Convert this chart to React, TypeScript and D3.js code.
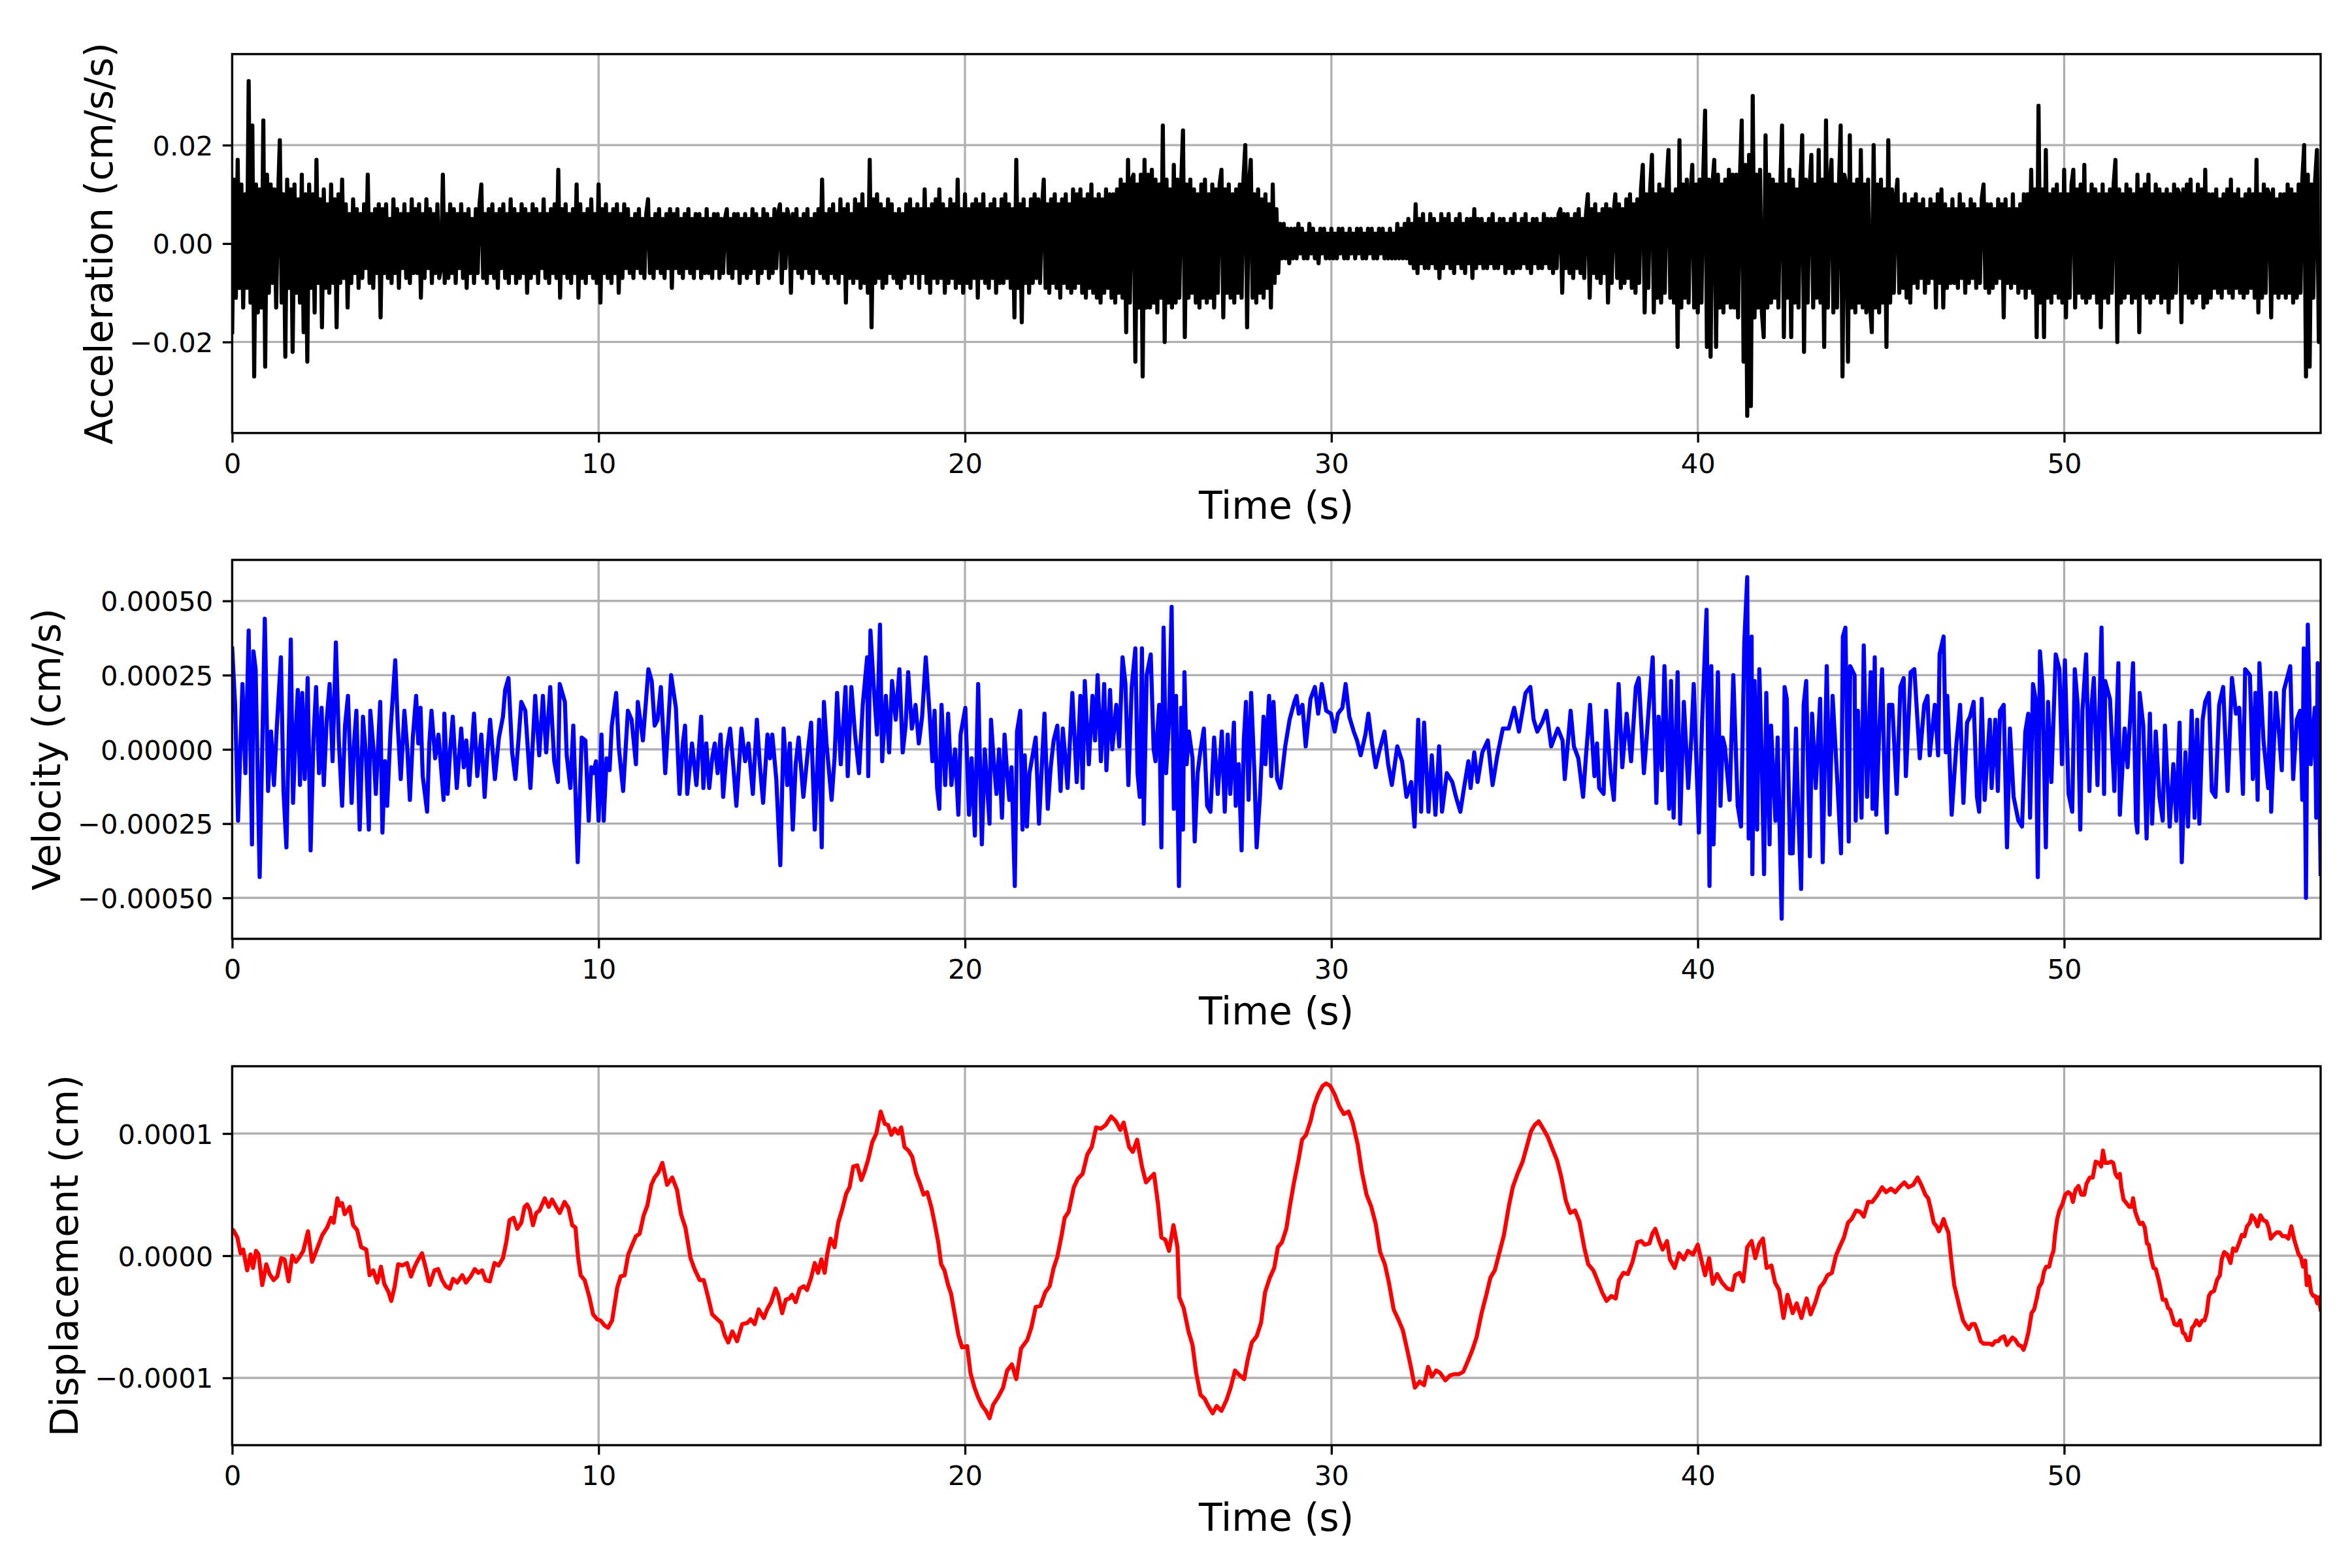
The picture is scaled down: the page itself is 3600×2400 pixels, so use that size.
import { useEffect, useRef } from "react"
import * as d3 from "d3"

type Pt = [number, number]

const tEnd = 57.0
const timeTicks = [0, 10, 20, 30, 40, 50]
const accelTicks = [-0.02, 0, 0.02]
const velocityTicks = [-0.0005, -0.00025, 0, 0.00025, 0.0005]
const displacementTicks = [-0.0001, 0, 0.0001]

// acceleration, one value every 0.05 s (one row per second), in 1e-3 cm/s/s
const accelStep = 0.05
const accelMilli = [
  -18, 13, -11, 17, -9, 12, -13, 10, -9, 33, -12, 24, -27, 12, -14, 11, -13, 25, -25, 14,
  -10, 12, -8, 11, -13, 9, 21, -12, 10, -23, 13, -9, 11, -22, 12, -10, 9, -12, 14, -18,
  10, -24, 12, -9, 10, -14, 17, -8, 9, -17, 11, -9, 8, -10, 12, -8, 9, -17, 10, -8,
  13, -7, 8, -13, 6, -8, 9, -6, 7, -9, 6, -7, 8, -5, 14, -8, 6, -9, 7, -6,
  8, -15, 7, -6, 8, -7, 5, -8, 9, -6, 7, -9, 6, -5, 8, -7, 6, -8, 9, -6,
  7, -6, 8, -11, 6, -7, 9, -5, 7, -8, 6, -6, 8, -7, -5, 14, -8, 6, -7, 8,
  -6, 7, -8, 6, -5, 8, -7, 6, -9, 7, -6, 5, -8, 7, -6, 8, 12, -7, 6, -8,
  7, -6, 8, -7, 6, -9, 7, -5, 8, -7, 6, -8, 9, -6, 7, -8, 6, -7, 8, -6,
  7, -10, 6, -7, 8, -6, 7, -8, 6, -5, 9, -7, 6, -8, 7, -6, 8, -7, 15, -11,
  7, -6, 8, -7, 6, -8, 7, -6, 12, -11, 8, -7, 6, -8, 7, -6, 9, -7, 6, -8,
  12, -12, 7, -6, 8, -7, 6, -8, 7, -6, 8, -10, 6, -7, 8, -5, 7, -6, 5, -7,
  6, -5, 7, -6, 5, -7, 6, 9, -6, 5, -7, 6, -5, 7, -6, 5, -7, 6, -5, 7,
  -9, 6, -5, 7, -6, 5, -7, 6, -5, 7, -6, 5, -7, 6, -5, 6, -7, 5, -6, 7,
  -6, 5, -7, 6, -5, 6, -7, 5, -6, 5, 7, -6, 5, -7, 6, -5, 6, -8, 5, -6,
  6, -7, 5, -6, 7, -5, 6, -8, 5, -6, 7, -5, 6, -7, 5, -6, 7, -5, 6, 8,
  -8, 6, -5, 7, 5, -10, 6, -5, 7, -6, 5, -7, 6, -5, 7, -6, 5, -8, 6, -5,
  7, -6, 13, -7, 6, -8, 7, -6, 8, -7, 6, -8, 9, -6, 7, -12, 8, -7, 6, -8,
  9, -7, 8, -9, 10, -8, 7, -10, 17, -17, 9, -8, 10, -7, 8, -9, 7, -8, 9, -6,
  8, -7, 6, -8, 7, -9, 6, -7, 8, -6, 9, -8, 7, -6, 8, -9, 7, -6, 11, -8,
  7, -10, 8, -7, 9, -8, 11, -7, 8, -10, 7, -8, 9, -7, 8, -9, 13, -8, 7, -10,
  10, -8, 7, -9, 8, -7, 9, -11, 8, -7, 10, -8, 7, -9, 8, -7, 9, -10, 7, -8,
  9, -8, 10, -7, 8, -9, 7, -15, 17, -9, 8, -16, 9, -8, 7, -10, 9, -8, 10, -7,
  9, -8, 7, 13, -9, 8, -10, 9, -8, 10, -9, 8, -11, 9, -8, 10, -9, 8, -10, 11,
  -9, 10, -8, 11, -10, 9, -11, 10, -9, 12, -10, 9, -11, 10, -12, 9, -10, 11, -9, 10,
  -11, 10, -12, 11, -10, 13, -11, 12, -18, 17, -12, 13, 14, -24, 12, -13, 14, -27, 17, -13,
  14, -13, 15, -12, 13, -14, 12, -11, 24, -20, 13, -12, 11, -13, 16, -12, 13, -11, 12, 23,
  -19, 12, -11, 13, -10, 11, -12, 10, -13, 12, -11, 13, -12, 10, -11, 12, -13, 11, -10, 12,
  15, -15, 11, -10, 12, -11, 10, -12, 11, -10, 12, -11, 13, 20, -17, 12, 17, -11, 10, -12,
  11, -10, 9, -11, 10, -9, 8, -13, 12, -8, 7, -6, 4, -3, 4, -3, 3, -4, 3, -3,
  3, -3, 4, -2, 3, -3, 2, -3, 4, -2, 3, -3, 2, -4, 3, -2, 3, -3, 2, -3,
  3, -3, 2, -3, 3, -2, 3, -3, 2, -3, 3, -2, 2, -3, 3, -2, 3, -3, 2, -3,
  3, -2, 3, -3, 2, -3, 3, -2, 3, -3, 2, -3, 3, -3, 2, -3, 4, -3, 3, -3,
  4, -3, 5, -4, 4, -5, 8, -6, 5, -4, 6, -5, 4, -5, 6, -4, 5, -5, 4, -7,
  6, -5, 5, -4, 6, -5, 4, -6, 5, -4, 6, -5, 4, -6, 5, -4, 5, -7, 7, -5,
  5, -4, 5, -5, 4, -5, 5, -4, 6, -5, 4, -5, 5, -4, 5, -6, 4, -5, 5, -6,
  6, -5, 4, -5, 5, -4, 6, -5, 4, -6, 5, -4, 5, -5, 4, -5, 6, -4, 5, -5,
  5, -6, 5, -5, 6, 7, -10, 6, -5, 6, -6, 5, -7, 6, -5, 7, -6, 5, -7, 6,
  10, -11, 7, -6, 8, -7, 6, -8, 7, -6, 8, -12, 7, -8, 6, 10, -7, 8, -9, 7,
  -8, 9, -7, 10, -9, 8, -10, 9, -8, 11, 16, -14, 10, -9, 11, 18, -14, 10, -11, 12,
  -12, 11, -10, 12, 19, -11, 10, -12, 11, -21, 21, -13, 12, -11, 13, -12, 10, 16, -13, 12,
  -14, 13, -12, 14, 27, -21, 13, -23, 12, 17, -21, 14, -13, 12, -14, 13, -12, 15, -13, 14,
  -13, 14, -15, 13, 25, -24, 16, -35, 18, -33, 30, -15, 14, -13, 15, -14, -19, 22, -13, 14,
  -12, 13, -11, 12, -13, 11, 24, -19, 12, -11, 15, -19, 13, -12, 11, -13, 12, 22, -22, 13,
  -12, 11, 18, -13, 12, -11, 19, -12, 13, -21, 25, -13, 12, 17, -14, 12, -13, 11, 24, -27,
  14, 12, -24, 22, -13, 12, -14, 13, -12, 19, -13, 12, -14, 13, -12, -18, 20, -13, 12, -14,
  13, -12, 11, -21, 21, -12, 11, -10, 9, 13, -10, 8, -9, 10, -11, 8, -12, 9, -8, 10,
  -9, 8, -7, 9, -10, 7, -8, 9, -7, 8, -13, 10, -8, 11, -13, 8, -9, 7, -8, 9,
  -8, 7, -9, 10, -7, 8, -10, 7, -8, 9, -7, 8, -9, 7, -8, 9, 12, -9, 8, -10,
  8, -9, 7, -8, 9, -7, 8, -15, 9, -8, 7, -9, 10, -8, 7, -10, 8, -9, 10, -11,
  10, -9, 15, -10, 11, -19, 28, -12, 11, -19, 19, -11, 10, -12, 11, -10, 12, -11, 10, -12,
  15, -15, 10, -11, 12, 15, -13, 11, -10, 12, -11, 16, -12, 10, -11, 12, -10, 11, -12, 10,
  -17, 12, -11, 10, -12, 11, -10, 12, 17, -20, 11, -12, 10, -11, 12, -10, 11, -12, 10, -11,
  14, -18, 11, -10, 12, -11, 14, -12, 10, -11, 12, -10, 11, -12, 10, -11, 11, -14, 10, -11,
  12, -10, 11, 10, -16, 11, -10, 12, -11, 13, -12, 10, -11, 12, -10, 11, -13, 15, -12, 10,
  -11, 10, -9, 11, -10, 9, -11, 10, -9, 11, -10, 13, -11, 10, -9, 11, -10, 9, -11, 10,
  -10, 11, -9, 10, -11, 17, -14, 10, -11, 12, -10, 11, 10, -15, 11, -10, 9, -11, 10, -10,
  10, -11, 12, -10, 11, -12, 10, -11, 12, -10, 13, 20, -27, 14, -25, 12, -11, 13, 19, -20,
  -18,
]

// velocity: [time s, value in 1e-5 cm/s]
const velocityPts: Pt[] = [
  [0.00, 34], [0.08, 15], [0.16, -24], [0.28, 22], [0.36, -8], [0.45, 40], [0.54, -32], [0.58, 33],
  [0.64, 27], [0.75, -43], [0.89, 44], [0.98, -14], [1.06, 6], [1.14, -12], [1.22, 8], [1.33, 31],
  [1.40, -14], [1.48, -33], [1.60, 37], [1.66, -18], [1.73, 5], [1.79, 20], [1.85, -12], [1.91, 19],
  [1.98, -10], [2.06, 24], [2.14, -34], [2.22, 4], [2.29, 21], [2.37, -8], [2.44, 14], [2.50, -12],
  [2.58, 10], [2.66, 22], [2.74, -4], [2.83, 36], [2.91, 3], [3.00, -19], [3.08, 8], [3.16, 18],
  [3.26, -18], [3.33, 3], [3.39, 13], [3.48, -27], [3.57, 11], [3.65, -2], [3.73, -27], [3.77, 13],
  [3.85, 1], [3.92, -15], [4.04, 16], [4.10, -28], [4.17, -4], [4.23, -19], [4.32, 6], [4.45, 30],
  [4.52, 8], [4.60, -10], [4.70, 13], [4.78, 0], [4.85, -17], [4.93, 4], [5.02, 18], [5.08, 2],
  [5.14, 14], [5.20, -9], [5.32, -21], [5.38, 2], [5.44, 13], [5.54, -3], [5.63, 5], [5.70, -6],
  [5.77, -17], [5.79, 12], [5.88, -15], [5.95, 0], [6.02, 11], [6.13, -13], [6.25, 7], [6.32, -6],
  [6.39, 3], [6.47, -12], [6.60, 12], [6.69, -9], [6.80, 5], [6.89, -16], [6.96, -2], [7.04, 10],
  [7.17, -10], [7.28, 4], [7.39, 11], [7.45, 20], [7.54, 24], [7.64, -1], [7.73, -10], [7.82, 4],
  [7.89, 16], [8.00, 13], [8.14, -13], [8.27, 18], [8.38, -2], [8.48, 18], [8.57, -1], [8.68, 21],
  [8.79, -4], [8.89, -11], [8.94, 22], [9.08, 16], [9.13, -2], [9.23, -13], [9.31, 8], [9.43, -38],
  [9.54, 4], [9.64, 3], [9.73, -24], [9.80, -6], [9.86, -8], [9.93, -4], [10.00, -24], [10.08, 5],
  [10.14, -24], [10.22, -3], [10.30, -7], [10.36, 8], [10.48, 19], [10.55, 1], [10.67, -14], [10.80, 13],
  [10.90, 10], [11.02, -5], [11.07, 16], [11.21, 3], [11.36, 27], [11.45, 23], [11.53, 8], [11.61, 10],
  [11.70, 21], [11.82, -8], [11.98, 25], [12.11, 14], [12.21, -15], [12.30, 2], [12.36, 8], [12.42, -15],
  [12.55, 2], [12.67, -12], [12.80, 11], [12.86, -13], [12.94, 2], [13.02, -13], [13.10, -3], [13.17, 2],
  [13.25, -8], [13.33, 5], [13.40, -16], [13.50, 0], [13.59, 7], [13.68, -6], [13.76, -19], [13.90, 7],
  [14.00, -4], [14.09, 2], [14.21, -15], [14.32, 10], [14.40, -5], [14.49, -18], [14.61, 5], [14.68, -3],
  [14.74, 5], [14.85, -10], [14.96, -39], [15.05, 7], [15.15, -12], [15.22, 2], [15.30, -27], [15.38, -5],
  [15.46, 4], [15.59, -16], [15.70, -2], [15.80, 9], [15.90, -27], [16.02, 10], [16.09, -33], [16.15, 16],
  [16.22, 2], [16.36, -17], [16.44, -3], [16.51, 19], [16.61, -5], [16.74, 21], [16.80, -9], [16.90, 21],
  [17.00, 5], [17.11, -8], [17.21, 15], [17.33, 31], [17.36, -9], [17.42, 40], [17.51, 21], [17.60, 5],
  [17.68, 42], [17.74, -4], [17.84, 18], [17.93, -1], [18.01, 23], [18.11, 10], [18.21, 27], [18.30, -1],
  [18.38, 8], [18.45, 26], [18.55, 7], [18.65, 15], [18.74, 2], [18.83, 11], [18.93, 31], [19.04, 11],
  [19.11, -4], [19.17, 13], [19.24, -13], [19.30, -20], [19.36, 15], [19.46, -12], [19.54, 12], [19.63, -12],
  [19.73, 0], [19.82, -22], [19.88, 5], [20.01, 14], [20.11, -22], [20.18, -3], [20.27, -29], [20.36, 22],
  [20.46, -32], [20.54, 0], [20.67, -25], [20.71, 10], [20.79, -5], [20.86, -15], [20.93, 0], [21.01, -23],
  [21.08, 5], [21.15, -8], [21.21, -17], [21.27, -6], [21.36, -46], [21.42, 6], [21.51, 13], [21.57, -27],
  [21.63, -2], [21.69, -26], [21.76, -8], [21.86, -1], [21.93, 4], [22.02, -25], [22.10, -5], [22.17, 12],
  [22.26, -20], [22.34, -6], [22.42, 3], [22.52, 8], [22.61, -14], [22.67, 7], [22.74, -3], [22.80, -13],
  [22.93, 19], [23.05, -11], [23.15, 18], [23.21, -13], [23.27, 23], [23.38, -5], [23.48, 18], [23.55, 3],
  [23.62, 25], [23.71, -4], [23.80, 22], [23.86, -7], [23.96, 20], [24.02, 0], [24.13, 15], [24.21, 1],
  [24.30, 31], [24.38, 22], [24.46, -12], [24.55, 21], [24.65, 34], [24.71, -8], [24.77, -16], [24.83, 34],
  [24.88, -25], [24.96, 25], [25.07, 32], [25.15, 0], [25.20, -4], [25.30, 15], [25.36, -33], [25.42, 41],
  [25.49, -8], [25.57, 10], [25.64, 48], [25.70, -20], [25.76, 18], [25.84, -46], [25.90, 14], [25.95, -27],
  [25.99, 26], [26.05, -5], [26.11, 6], [26.21, -3], [26.27, -31], [26.35, -8], [26.42, -1], [26.52, 7],
  [26.61, -19], [26.70, -21], [26.80, 4], [26.90, -15], [27.01, 6], [27.09, -21], [27.17, 5], [27.24, -15],
  [27.34, 9], [27.39, -19], [27.47, -5], [27.55, -34], [27.61, 3], [27.67, 16], [27.74, -17], [27.81, 19],
  [27.90, -8], [27.96, -33], [28.05, -16], [28.15, 11], [28.20, -5], [28.30, 18], [28.36, -9], [28.42, 16],
  [28.52, -10], [28.61, -13], [28.74, 1], [28.86, 10], [28.99, 16], [29.05, 18], [29.11, 12], [29.21, 15],
  [29.30, 1], [29.43, 17], [29.55, 21], [29.64, 12], [29.74, 22], [29.86, 13], [29.99, 12], [30.09, 6],
  [30.18, 12], [30.30, 14], [30.39, 22], [30.49, 11], [30.61, 6], [30.70, 3], [30.80, -2], [30.93, 5],
  [31.01, 12], [31.11, 2], [31.21, -6], [31.30, -1], [31.45, 6], [31.55, -5], [31.65, -12], [31.80, 1],
  [31.93, -4], [32.05, -16], [32.18, -11], [32.27, -26], [32.37, 10], [32.45, -21], [32.53, 9], [32.65, -21],
  [32.74, -2], [32.84, -22], [32.94, 1], [33.02, -21], [33.15, -8], [33.30, -11], [33.40, -16], [33.52, -21],
  [33.62, -13], [33.74, -4], [33.80, -13], [33.90, -1], [33.99, -11], [34.12, -1], [34.27, 3], [34.40, -12],
  [34.53, -2], [34.68, 7], [34.84, 7], [34.99, 14], [35.12, 6], [35.30, 19], [35.43, 21], [35.52, 10],
  [35.62, 6], [35.75, 9], [35.87, 13], [36.00, 1], [36.18, 7], [36.31, 3], [36.37, -10], [36.53, 13],
  [36.62, 1], [36.74, -3], [36.87, -16], [36.95, -2], [37.06, 15], [37.18, -9], [37.25, 2], [37.31, -13],
  [37.43, -15], [37.50, 13], [37.62, -8], [37.71, -17], [37.84, 22], [37.94, -6], [38.06, 12], [38.18, -4],
  [38.31, 21], [38.39, 24], [38.53, -8], [38.60, 3], [38.68, 17], [38.77, 31], [38.87, -18], [38.93, 11],
  [39.02, -7], [39.09, 28], [39.22, -20], [39.27, 23], [39.34, -23], [39.45, 26], [39.52, -25], [39.62, 16],
  [39.74, -13], [39.82, 3], [39.89, 22], [40.03, -28], [40.12, 10], [40.24, 47], [40.32, -46], [40.37, 28],
  [40.43, -32], [40.55, 26], [40.62, -19], [40.68, 4], [40.74, 1], [40.87, -17], [40.97, 25], [41.09, -19],
  [41.18, -26], [41.27, 36], [41.35, 58], [41.39, -30], [41.47, 38], [41.49, -42], [41.55, 23], [41.62, -27],
  [41.68, 27], [41.75, -5], [41.81, -42], [41.87, 19], [41.96, -32], [42.00, 8], [42.12, -24], [42.18, 4],
  [42.29, -57], [42.37, 21], [42.43, 17], [42.52, -35], [42.59, -35], [42.68, 7], [42.74, -20], [42.82, -47],
  [42.89, 15], [42.96, 23], [43.06, -36], [43.12, 12], [43.22, -13], [43.34, 17], [43.41, -38], [43.52, 28],
  [43.60, -22], [43.68, 18], [43.81, -11], [43.91, -35], [43.96, 38], [44.03, 41], [44.12, -31], [44.16, 28],
  [44.28, 25], [44.31, -24], [44.37, 13], [44.47, -23], [44.53, 35], [44.62, -16], [44.72, 26], [44.77, -20],
  [44.83, 31], [44.87, -22], [44.95, 5], [45.03, 27], [45.10, -10], [45.16, -28], [45.22, 15], [45.31, 15],
  [45.43, -15], [45.53, 21], [45.62, 24], [45.68, -9], [45.81, 26], [45.91, 27], [46.06, -3], [46.18, 15],
  [46.27, 18], [46.33, -2], [46.47, 15], [46.56, -2], [46.60, 32], [46.71, 38], [46.77, -1], [46.81, 18],
  [46.93, -22], [47.06, 2], [47.16, 15], [47.25, -18], [47.35, 9], [47.43, 11], [47.53, 16], [47.62, -16],
  [47.68, -21], [47.75, 17], [47.83, -17], [47.97, 10], [48.02, -13], [48.12, 10], [48.19, -14], [48.25, 13],
  [48.35, 15], [48.44, -33], [48.52, 7], [48.62, -16], [48.75, -24], [48.85, -26], [48.94, 6], [49.02, 12],
  [49.07, -23], [49.15, 22], [49.22, 17], [49.28, -43], [49.34, 33], [49.41, 21], [49.50, -33], [49.56, 16],
  [49.65, -11], [49.77, 32], [49.87, 27], [49.94, -5], [50.02, 30], [50.12, -15], [50.22, -21], [50.29, 27],
  [50.37, 15], [50.44, -27], [50.50, 13], [50.60, 32], [50.69, -14], [50.75, 15], [50.81, 24], [50.91, -12],
  [51.02, 41], [51.09, -15], [51.12, 23], [51.25, 17], [51.37, -14], [51.48, 29], [51.52, -22], [51.65, 7],
  [51.73, -6], [51.88, 29], [51.96, -24], [52.00, -28], [52.06, 19], [52.16, 8], [52.25, -30], [52.34, 12],
  [52.40, -25], [52.50, 6], [52.60, -16], [52.69, -24], [52.75, 8], [52.88, -26], [52.98, -5], [53.06, -24],
  [53.15, 9], [53.21, -38], [53.31, -1], [53.38, -26], [53.48, 13], [53.56, -23], [53.63, 10], [53.69, -25],
  [53.78, 10], [53.85, 16], [53.95, 19], [54.03, -14], [54.13, -16], [54.23, 15], [54.34, 21], [54.46, -14],
  [54.58, 24], [54.69, 12], [54.78, 14], [54.88, -15], [54.94, 27], [55.07, 25], [55.15, -10], [55.22, 19],
  [55.28, -17], [55.33, 29], [55.44, 3], [55.57, -13], [55.63, 19], [55.65, -21], [55.78, 19], [55.94, -7],
  [56.00, 20], [56.17, 28], [56.25, -10], [56.35, 10], [56.44, 13], [56.50, -17], [56.54, 34], [56.60, -50],
  [56.65, 42], [56.73, -5], [56.84, 14], [56.88, -23], [56.92, 29], [57.00, -42],
]

// displacement: [time s, value in 1e-6 cm]
const displacementPts: Pt[] = [
  [0.00, 21], [0.03, 21], [0.14, 15], [0.23, 2], [0.30, 5], [0.41, -12], [0.50, 1], [0.57, -10],
  [0.65, 4], [0.72, 1], [0.82, -24], [0.93, -7], [1.02, -15], [1.13, -20], [1.23, -17], [1.34, -2],
  [1.43, -3], [1.54, -21], [1.64, 0], [1.74, -5], [1.84, -1], [1.94, 4], [2.07, 20], [2.18, -5],
  [2.32, 6], [2.46, 17], [2.59, 23], [2.70, 31], [2.77, 27], [2.87, 47], [2.93, 41], [3.00, 43],
  [3.07, 34], [3.21, 40], [3.30, 25], [3.41, 21], [3.52, 7], [3.66, 5], [3.75, -16], [3.85, -12],
  [3.96, -22], [4.06, -9], [4.15, -23], [4.27, -30], [4.34, -37], [4.43, -26], [4.53, -7], [4.64, -8],
  [4.77, -6], [4.88, -17], [4.98, -9], [5.08, -3], [5.18, 2], [5.29, -11], [5.39, -24], [5.52, -12],
  [5.62, -11], [5.73, -20], [5.83, -25], [5.94, -27], [6.03, -19], [6.14, -22], [6.28, -16], [6.38, -22],
  [6.51, -17], [6.62, -11], [6.72, -14], [6.82, -12], [6.92, -20], [7.03, -21], [7.16, -6], [7.27, -8],
  [7.39, -2], [7.48, 11], [7.57, 29], [7.68, 31], [7.78, 22], [7.89, 27], [7.98, 40], [8.05, 42],
  [8.12, 38], [8.21, 25], [8.30, 35], [8.39, 37], [8.53, 47], [8.64, 40], [8.73, 46], [8.84, 40],
  [8.94, 35], [9.07, 44], [9.18, 39], [9.28, 25], [9.37, 23], [9.44, -1], [9.51, -16], [9.62, -20],
  [9.75, -34], [9.85, -48], [9.96, -52], [10.05, -53], [10.16, -57], [10.26, -59], [10.37, -53], [10.51, -26],
  [10.60, -17], [10.71, -16], [10.81, 1], [10.92, 9], [11.02, 16], [11.12, 18], [11.23, 33], [11.33, 41],
  [11.44, 58], [11.53, 64], [11.63, 68], [11.74, 76], [11.87, 58], [12.01, 64], [12.14, 54], [12.25, 34],
  [12.37, 23], [12.51, -2], [12.62, -11], [12.76, -20], [12.87, -20], [12.99, -34], [13.10, -48], [13.24, -52],
  [13.35, -55], [13.44, -65], [13.54, -71], [13.65, -62], [13.78, -70], [13.92, -56], [14.06, -55], [14.15, -52],
  [14.26, -56], [14.37, -44], [14.51, -51], [14.60, -44], [14.71, -38], [14.83, -27], [14.90, -32], [15.01, -47],
  [15.11, -36], [15.21, -35], [15.28, -32], [15.38, -38], [15.49, -27], [15.60, -25], [15.69, -28], [15.80, -18],
  [15.90, -6], [15.99, -14], [16.08, -3], [16.17, -14], [16.24, 1], [16.33, 14], [16.44, 7], [16.54, 27],
  [16.65, 38], [16.76, 51], [16.85, 56], [16.95, 73], [17.06, 74], [17.17, 62], [17.26, 69], [17.36, 79],
  [17.47, 93], [17.58, 100], [17.70, 118], [17.81, 108], [17.90, 107], [17.99, 99], [18.08, 104], [18.18, 100],
  [18.26, 105], [18.35, 89], [18.46, 86], [18.56, 81], [18.67, 67], [18.76, 60], [18.87, 50], [18.97, 52],
  [19.08, 40], [19.17, 27], [19.27, 11], [19.35, -7], [19.44, -12], [19.54, -24], [19.62, -31], [19.72, -48],
  [19.82, -65], [19.92, -75], [20.06, -74], [20.15, -96], [20.26, -108], [20.36, -116], [20.47, -123], [20.57, -127],
  [20.67, -133], [20.77, -122], [20.90, -116], [21.04, -108], [21.15, -94], [21.28, -89], [21.40, -101], [21.53, -76],
  [21.70, -69], [21.81, -59], [21.93, -42], [22.06, -41], [22.19, -30], [22.31, -25], [22.42, -10], [22.52, -1],
  [22.64, 17], [22.72, 31], [22.83, 36], [22.97, 56], [23.08, 63], [23.21, 67], [23.34, 83], [23.46, 89],
  [23.58, 105], [23.71, 104], [23.84, 107], [23.99, 114], [24.12, 110], [24.24, 103], [24.33, 109], [24.48, 89],
  [24.58, 85], [24.70, 95], [24.83, 73], [24.94, 60], [25.06, 64], [25.16, 67], [25.27, 42], [25.36, 15],
  [25.47, 13], [25.57, 4], [25.69, 25], [25.80, 7], [25.85, -34], [25.97, -43], [26.10, -62], [26.21, -73],
  [26.31, -96], [26.43, -114], [26.54, -117], [26.64, -123], [26.76, -129], [26.87, -123], [27.00, -127], [27.14, -118],
  [27.25, -108], [27.37, -94], [27.50, -98], [27.62, -101], [27.71, -86], [27.83, -71], [27.96, -66], [28.08, -55],
  [28.19, -30], [28.32, -18], [28.44, -10], [28.54, 7], [28.65, 11], [28.77, 22], [28.87, 41], [28.98, 60],
  [29.10, 78], [29.20, 95], [29.31, 99], [29.43, 110], [29.53, 123], [29.64, 132], [29.76, 139], [29.86, 141],
  [29.97, 139], [30.09, 132], [30.22, 122], [30.34, 116], [30.47, 118], [30.58, 109], [30.72, 91], [30.83, 69],
  [30.96, 50], [31.09, 40], [31.21, 26], [31.33, 3], [31.46, -7], [31.57, -22], [31.70, -44], [31.84, -53],
  [31.95, -61], [32.07, -77], [32.17, -91], [32.28, -108], [32.41, -103], [32.53, -106], [32.64, -91], [32.74, -99],
  [32.86, -94], [32.97, -96], [33.11, -102], [33.24, -98], [33.35, -97], [33.48, -97], [33.60, -95], [33.73, -86],
  [33.85, -77], [33.96, -67], [34.10, -47], [34.23, -32], [34.34, -18], [34.46, -12], [34.59, 3], [34.71, 17],
  [34.84, 40], [34.95, 56], [35.08, 67], [35.22, 77], [35.33, 89], [35.45, 102], [35.55, 107], [35.66, 110],
  [35.78, 104], [35.91, 97], [36.04, 87], [36.16, 78], [36.27, 65], [36.40, 45], [36.52, 35], [36.65, 37],
  [36.77, 28], [36.90, 7], [37.01, -7], [37.15, -12], [37.26, -20], [37.39, -30], [37.51, -37], [37.64, -33],
  [37.76, -35], [37.85, -20], [37.97, -14], [38.09, -15], [38.22, -5], [38.35, 11], [38.46, 12], [38.55, 9],
  [38.68, 10], [38.76, 18], [38.84, 22], [38.96, 11], [39.04, 5], [39.16, 12], [39.24, -3], [39.37, -10],
  [39.49, 2], [39.62, -3], [39.73, 4], [39.87, 1], [40.00, 9], [40.11, -5], [40.20, -16], [40.31, -2],
  [40.41, -23], [40.53, -15], [40.66, -22], [40.81, -27], [40.94, -28], [41.02, -16], [41.14, -14], [41.24, -21],
  [41.35, 7], [41.47, 12], [41.57, -2], [41.68, 10], [41.78, 14], [41.88, -10], [42.01, -8], [42.11, -22],
  [42.22, -28], [42.34, -51], [42.45, -32], [42.59, -47], [42.70, -39], [42.83, -51], [42.97, -35], [43.08, -48],
  [43.21, -38], [43.33, -26], [43.44, -22], [43.54, -16], [43.66, -14], [43.77, 0], [43.87, 7], [43.99, 15],
  [44.10, 27], [44.20, 30], [44.32, 37], [44.43, 36], [44.53, 32], [44.65, 44], [44.76, 44], [44.89, 49],
  [45.03, 56], [45.14, 52], [45.27, 55], [45.39, 52], [45.50, 56], [45.64, 60], [45.75, 56], [45.88, 58],
  [46.00, 64], [46.10, 58], [46.21, 50], [46.29, 47], [46.37, 37], [46.44, 27], [46.52, 24], [46.58, 20],
  [46.64, 24], [46.71, 30], [46.76, 25], [46.84, 19], [46.92, -4], [47.00, -24], [47.08, -34], [47.16, -44],
  [47.24, -53], [47.32, -57], [47.40, -60], [47.48, -56], [47.56, -56], [47.64, -62], [47.72, -70], [47.80, -72],
  [47.88, -72], [47.96, -72], [48.04, -73], [48.12, -70], [48.20, -70], [48.28, -67], [48.36, -66], [48.44, -73],
  [48.51, -70], [48.59, -67], [48.67, -69], [48.75, -73], [48.83, -74], [48.89, -77], [48.95, -72], [49.03, -62],
  [49.11, -47], [49.18, -44], [49.26, -34], [49.31, -26], [49.39, -22], [49.45, -13], [49.51, -9], [49.59, -9],
  [49.65, -1], [49.71, 4], [49.75, 17], [49.81, 30], [49.87, 37], [49.95, 42], [50.03, 50], [50.11, 52],
  [50.19, 50], [50.24, 44], [50.31, 54], [50.39, 57], [50.47, 50], [50.55, 50], [50.61, 59], [50.70, 64],
  [50.78, 64], [50.86, 77], [50.94, 76], [51.01, 73], [51.06, 86], [51.12, 76], [51.20, 76], [51.28, 77],
  [51.34, 76], [51.40, 67], [51.46, 64], [51.52, 67], [51.56, 56], [51.62, 46], [51.70, 43], [51.78, 40],
  [51.84, 40], [51.88, 47], [51.94, 36], [52.02, 29], [52.07, 26], [52.14, 27], [52.20, 23], [52.26, 10],
  [52.31, 9], [52.38, -3], [52.44, -10], [52.50, -11], [52.58, -20], [52.63, -27], [52.69, -36], [52.77, -36],
  [52.84, -43], [52.89, -44], [52.95, -50], [53.01, -56], [53.09, -57], [53.17, -53], [53.24, -63], [53.29, -64],
  [53.36, -69], [53.43, -69], [53.49, -59], [53.55, -57], [53.61, -53], [53.69, -57], [53.77, -53], [53.83, -53],
  [53.89, -47], [53.95, -33], [54.01, -30], [54.09, -29], [54.17, -20], [54.25, -16], [54.30, -3], [54.37, 3],
  [54.45, 1], [54.54, -6], [54.61, 6], [54.69, 4], [54.77, 10], [54.85, 17], [54.92, 16], [54.99, 24],
  [55.07, 27], [55.12, 33], [55.20, 30], [55.28, 24], [55.36, 33], [55.44, 29], [55.52, 28], [55.58, 23],
  [55.64, 14], [55.72, 17], [55.80, 19], [55.88, 19], [55.96, 16], [56.04, 16], [56.12, 14], [56.20, 24],
  [56.28, 13], [56.34, 7], [56.40, 1], [56.46, -1], [56.52, -9], [56.58, -4], [56.62, -24], [56.68, -17],
  [56.74, -30], [56.80, -33], [56.85, -33], [56.91, -39], [56.95, -34], [57.00, -44],
]

// figure geometry (px), matplotlib-like at 300 dpi
const PX = 300 / 72
const FIG_W = 3600
const FIG_H = 2400
const LEFT = 355.4
const RIGHT = 3552
const PANEL_H = 580
const TOPS = [82.8, 857, 1632]
const FONT = "DejaVu Sans"

const panels = [
  {
    label: "Acceleration (cm/s/s)",
    color: "#000000",
    ticks: accelTicks,
    fmt: ".2f",
    points: accelMilli.map((v, i) => [i * accelStep, v * 1e-3] as Pt),
  },
  {
    label: "Velocity (cm/s)",
    color: "#0000ff",
    ticks: velocityTicks,
    fmt: ".5f",
    points: velocityPts.map(([t, v]) => [t, v * 1e-5] as Pt),
  },
  {
    label: "Displacement (cm)",
    color: "#ff0000",
    ticks: displacementTicks,
    fmt: ".4f",
    points: displacementPts.map(([t, v]) => [t, v * 1e-6] as Pt),
  },
]

export default function App() {
  const svgRef = useRef<SVGSVGElement | null>(null)

  useEffect(() => {
    if (!svgRef.current) return

    const svg = d3.select(svgRef.current)
    svg.selectAll("*").remove()

    svg.append("rect").attr("width", FIG_W).attr("height", FIG_H).attr("fill", "#ffffff")

    const x = d3.scaleLinear().domain([0, tEnd]).range([LEFT, RIGHT])

    panels.forEach((p, i) => {
      const top = TOPS[i]
      const bottom = top + PANEL_H
      const peak = d3.max(p.points, d => Math.abs(d[1])) ?? 1
      const y = d3
        .scaleLinear()
        .domain([-1.1 * peak, 1.1 * peak])
        .range([bottom, top])

      const clipId = `panel-clip-${i}`
      svg
        .append("clipPath")
        .attr("id", clipId)
        .append("rect")
        .attr("x", LEFT)
        .attr("y", top)
        .attr("width", RIGHT - LEFT)
        .attr("height", PANEL_H)

      // grid
      const grid = svg.append("g").attr("stroke", "#b0b0b0").attr("stroke-width", 0.8 * PX)
      grid
        .selectAll("line.vx")
        .data(timeTicks)
        .join("line")
        .attr("class", "vx")
        .attr("x1", d => x(d))
        .attr("x2", d => x(d))
        .attr("y1", top)
        .attr("y2", bottom)
      grid
        .selectAll("line.hy")
        .data(p.ticks)
        .join("line")
        .attr("class", "hy")
        .attr("x1", LEFT)
        .attr("x2", RIGHT)
        .attr("y1", d => y(d))
        .attr("y2", d => y(d))

      // signal
      const line = d3
        .line<Pt>()
        .x(d => x(d[0]))
        .y(d => y(d[1]))

      svg
        .append("path")
        .datum(p.points)
        .attr("clip-path", `url(#${clipId})`)
        .attr("fill", "none")
        .attr("stroke", p.color)
        .attr("stroke-width", 1.5 * PX)
        .attr("stroke-linejoin", "round")
        .attr("stroke-linecap", "square")
        .attr("d", line)

      // frame
      svg
        .append("rect")
        .attr("x", LEFT)
        .attr("y", top)
        .attr("width", RIGHT - LEFT)
        .attr("height", PANEL_H)
        .attr("fill", "none")
        .attr("stroke", "#000000")
        .attr("stroke-width", 0.8 * PX)

      // x axis
      const gx = svg
        .append("g")
        .attr("transform", `translate(0, ${bottom})`)
        .call(
          d3
            .axisBottom(x)
            .tickValues(timeTicks)
            .tickFormat(d3.format("d"))
            .tickSize(3.5 * PX)
            .tickPadding(3.5 * PX)
        )
      gx.select(".domain").remove()
      gx.attr("font-size", 10 * PX).attr("font-family", FONT)
      gx.selectAll("line").attr("stroke-width", 0.8 * PX)
      gx.selectAll("text").attr("dy", "0.76em")

      // y axis
      const gy = svg
        .append("g")
        .attr("transform", `translate(${LEFT}, 0)`)
        .call(
          d3
            .axisLeft(y)
            .tickValues(p.ticks)
            .tickFormat(d3.format(p.fmt))
            .tickSize(3.5 * PX)
            .tickPadding(3.5 * PX)
        )
      gy.select(".domain").remove()
      gy.attr("font-size", 10 * PX).attr("font-family", FONT)
      gy.selectAll("line").attr("stroke-width", 0.8 * PX)
      gy.selectAll("text").attr("dy", "0.36em")

      let minX = 0
      gy.selectAll<SVGTextElement, unknown>("text").each(function () {
        const b = this.getBBox()
        minX = Math.min(minX, b.x)
      })

      // axis labels
      svg
        .append("text")
        .attr("x", (LEFT + RIGHT) / 2)
        .attr("y", bottom + 131)
        .attr("text-anchor", "middle")
        .attr("font-family", FONT)
        .attr("font-size", 14 * PX)
        .attr("fill", "#000000")
        .text("Time (s)")

      const labelX = LEFT + minX - 4 * PX - 10
      svg
        .append("text")
        .attr("transform", `translate(${labelX}, ${top + PANEL_H / 2}) rotate(-90)`)
        .attr("text-anchor", "middle")
        .attr("font-family", FONT)
        .attr("font-size", 14 * PX)
        .attr("fill", "#000000")
        .text(p.label)
    })
  }, [])

  return (
    <div style={{ position: "absolute", left: 0, top: 0, width: FIG_W, height: FIG_H, background: "#ffffff" }}>
      <svg ref={svgRef} width={FIG_W} height={FIG_H} />
    </div>
  )
}
